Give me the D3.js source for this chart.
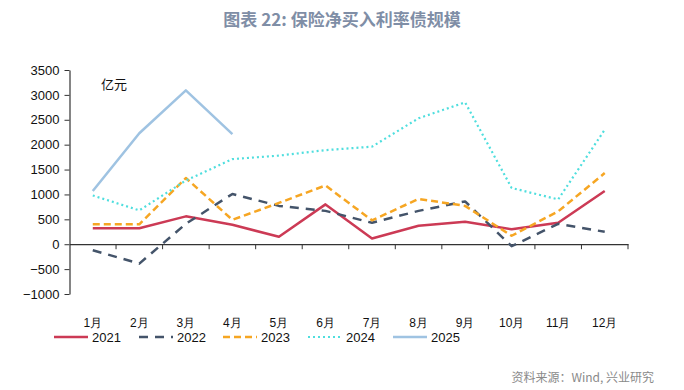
<!DOCTYPE html>
<html><head><meta charset="utf-8">
<script src="https://cdn.jsdelivr.net/npm/d3@7"></script>
<style>
body{margin:0;background:#fff;}
svg{display:block;}
</style></head>
<body><svg id="c" width="684" height="390"></svg>
<script>
const months = ["1月","2月","3月","4月","5月","6月","7月","8月","9月","10月","11月","12月"];
const yTicks = [-1000,-500,0,500,1000,1500,2000,2500,3000,3500];
const s2021 = [320,320,560,390,150,800,115,370,450,300,430,1070];
const s2022 = [-120,-390,410,1010,770,670,430,670,860,-40,410,250];
const s2023 = [400,400,1330,490,830,1180,480,910,770,170,660,1430];
const s2024 = [980,680,1280,1710,1780,1890,1960,2530,2850,1130,900,2300];
const s2025 = [1070,2230,3090,2210];
const seriesNames = ["2021","2022","2023","2024","2025"];

const series = [
  {name:seriesNames[0], values:s2021, color:"#cc3a55", dash:null, width:2.5},
  {name:seriesNames[1], values:s2022, color:"#44546a", dash:"9,7", width:2.5},
  {name:seriesNames[2], values:s2023, color:"#f6a623", dash:"7,4", width:2.5},
  {name:seriesNames[3], values:s2024, color:"#4fdede", dash:"2,3", width:2.2},
  {name:seriesNames[4], values:s2025, color:"#9fc3e2", dash:null, width:2.5}
];

const svg = d3.select("#c");
const pL = 69.5, pR = 628, pT = 70, pB = 294;
const x = d3.scaleBand().domain(months).range([pL, pR]);
const y = d3.scaleLinear().domain([-1000,3500]).range([pB, pT]);

const font = "'Liberation Sans',Arial,sans-serif";

svg.append("text").attr("x",342).attr("y",26).attr("text-anchor","middle")
  .attr("font-family","'Noto Sans CJK SC',sans-serif").attr("font-weight","bold")
  .attr("font-size",17).attr("fill","#7f8ea6").text("图表 22: 保险净买入利率债规模");

const yAxis = d3.axisLeft(y).tickValues(yTicks).tickFormat(d3.format("d"))
  .tickSize(5).tickPadding(5).tickSizeOuter(0);
const gy = svg.append("g").attr("transform",`translate(${pL},0)`).call(yAxis);
gy.select(".domain").attr("stroke","#333").attr("stroke-width",1.2);
gy.selectAll(".tick line").attr("stroke","#333");
gy.selectAll("text").attr("font-family",font).attr("font-size",13).attr("fill","#111");

const xAxis = d3.axisBottom(x).tickSize(0).tickSizeOuter(0).tickFormat("");
const gx = svg.append("g").attr("transform",`translate(0,${y(0)})`).call(xAxis);
gx.select(".domain").attr("stroke","#333").attr("stroke-width",1.2);
const bounds = months.map(m=>x(m)).concat([pR]).slice(1);
gx.selectAll(".bt").data(bounds).enter().append("line")
  .attr("x1",d=>d).attr("x2",d=>d).attr("y1",0).attr("y2",5).attr("stroke","#333");

svg.append("g").selectAll("text").data(months).enter().append("text")
  .attr("x",d=>x(d)+x.bandwidth()/2).attr("y",327).attr("text-anchor","middle")
  .attr("font-family",font).attr("font-size",12).attr("fill","#111").text(d=>d);

svg.append("text").attr("x",101).attr("y",89).attr("font-family","'Noto Sans CJK SC',sans-serif")
  .attr("font-size",13).attr("fill","#111").text("亿元");

const line = d3.line().x((d,i)=>x(months[i])+x.bandwidth()/2).y(d=>y(d));
series.forEach(s=>{
  svg.append("path").datum(s.values).attr("d",line).attr("fill","none")
    .attr("stroke",s.color).attr("stroke-width",s.width)
    .attr("stroke-dasharray",s.dash).attr("stroke-linejoin","round");
});

const legX = [54,139,223,308,393];
const lg = svg.append("g");
series.forEach((s,i)=>{
  lg.append("line").attr("x1",legX[i]).attr("x2",legX[i]+34).attr("y1",337).attr("y2",337)
    .attr("stroke",s.color).attr("stroke-width",s.width).attr("stroke-dasharray",s.dash);
  lg.append("text").attr("x",legX[i]+38).attr("y",342).attr("font-family",font)
    .attr("font-size",13).attr("fill","#111").text(s.name);
});

svg.append("text").attr("x",654).attr("y",382).attr("text-anchor","end")
  .attr("font-family","'Noto Sans CJK SC',sans-serif").attr("font-size",12).attr("fill","#8a8a8a")
  .text("资料来源：Wind, 兴业研究");
</script></body></html>
